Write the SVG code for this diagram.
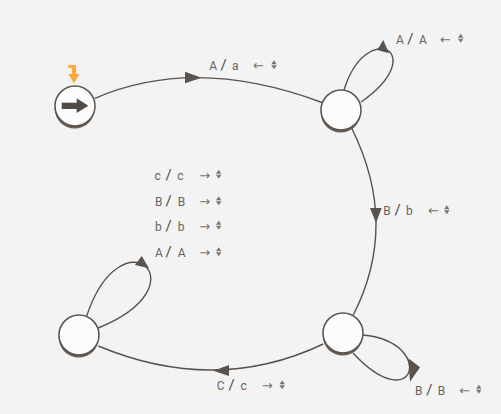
<svg xmlns="http://www.w3.org/2000/svg" xmlns:xlink="http://www.w3.org/1999/xlink" width="501" height="414" viewBox="0 0 501 414">
<style>
.edge{fill:none;stroke:#5a524c;stroke-width:1.4}
.head{fill:#5a524c;stroke:none}
.shadow{fill:#6a5d54;filter:url(#blur)}
.state{fill:#fcfcfc;stroke:#5a524c;stroke-width:1.5}
.lbl{font-family:Roboto,"Noto Sans","Liberation Sans",sans-serif;font-size:12px;fill:#6a635d}
.sl{font-size:15px;fill:#4d4742}
.ar{font-family:"DejaVu Sans",sans-serif;font-size:13px;fill:#7a736d}
.spin{fill:#7d7671}
</style>
<defs>
<filter id="blur" x="-20%" y="-20%" width="140%" height="140%"><feGaussianBlur stdDeviation="0.7"/></filter>
<g id="spinner" class="spin"><polygon points="-2.75,-0.5 2.75,-0.5 0,-4.5"/><polygon points="-2.75,0.5 2.75,0.5 0,4.5"/></g>
</defs>
<rect width="501" height="414" fill="#f3f3f3"/>
<g id="connectors">
<path class="edge" d="M95 98.3 Q194.9 55 322 102.5"/>
<polygon class="head" points="185,71.7 201.7,77.7 185,83.3"/>
<path class="edge" d="M351.7 128.3 Q399.5 224.4 353.3 315"/>
<polygon class="head" points="370,208 381.7,208 376,223"/>
<path class="edge" d="M323.3 344 Q215.8 395 98.3 346"/>
<polygon class="head" points="229,365 229,376 213.3,370.7"/>
<path class="edge" d="M361 102 C432 52 366 18 344 90"/>
<polygon class="head" points="383.3,40 389,53.3 377.3,50"/>
<path class="edge" d="M363 335 C437 342 415 420 353 353"/>
<polygon class="head" points="408.3,358.3 420,367.3 410,381.7"/>
<path class="edge" d="M98.3 328 C205 285 121.7 211 86.7 316"/>
<polygon class="head" points="141.7,256 149,268.3 135,265"/>
</g>
<g id="labels">
<g id="label-q0-q1"><text class="lbl" y="70"><tspan x="209.3">A</tspan><tspan class="sl" x="220.5">/</tspan><tspan x="232">a</tspan><tspan class="ar" x="253">←</tspan></text><use xlink:href="#spinner" x="274" y="64.8"/></g>
<g id="label-q1-q1"><text class="lbl" y="43.5"><tspan x="396">A</tspan><tspan class="sl" x="407.2">/</tspan><tspan x="419">A</tspan><tspan class="ar" x="440">←</tspan></text><use xlink:href="#spinner" x="460.7" y="38.3"/></g>
<g id="label-q1-q2"><text class="lbl" y="215"><tspan x="383.3">B</tspan><tspan class="sl" x="394.5">/</tspan><tspan x="406">b</tspan><tspan class="ar" x="428">←</tspan></text><use xlink:href="#spinner" x="446.8" y="209.8"/></g>
<g id="label-q2-q2"><text class="lbl" y="394.5"><tspan x="415">B</tspan><tspan class="sl" x="426.2">/</tspan><tspan x="437.7">B</tspan><tspan class="ar" x="459.3">←</tspan></text><use xlink:href="#spinner" x="478.8" y="389.3"/></g>
<g id="label-q2-q3"><text class="lbl" y="390"><tspan x="216.7">C</tspan><tspan class="sl" x="228.5">/</tspan><tspan x="240.5">c</tspan><tspan class="ar" x="261.7">→</tspan></text><use xlink:href="#spinner" x="282.2" y="384.8"/></g>
<g id="label-q3-q3">
<text class="lbl" y="179.5"><tspan x="154.5">c</tspan><tspan class="sl" x="165.5">/</tspan><tspan x="177.2">c</tspan><tspan class="ar" x="199.3">→</tspan></text><use xlink:href="#spinner" x="218.7" y="174.3"/>
<text class="lbl" y="206"><tspan x="155">B</tspan><tspan class="sl" x="165.5">/</tspan><tspan x="177.7">B</tspan><tspan class="ar" x="199.3">→</tspan></text><use xlink:href="#spinner" x="218.7" y="200.8"/>
<text class="lbl" y="230.5"><tspan x="155">b</tspan><tspan class="sl" x="165.5">/</tspan><tspan x="177.7">b</tspan><tspan class="ar" x="199.3">→</tspan></text><use xlink:href="#spinner" x="218.7" y="225.3"/>
<text class="lbl" y="257"><tspan x="155">A</tspan><tspan class="sl" x="165.5">/</tspan><tspan x="177.7">A</tspan><tspan class="ar" x="199.3">→</tspan></text><use xlink:href="#spinner" x="218.7" y="251.8"/>
</g>
</g>
<g id="q0">
<circle class="shadow" cx="74.7" cy="108.6" r="20"/>
<circle class="state" cx="75" cy="106" r="20"/>
<rect x="61.7" y="102.7" width="15.5" height="6.3" fill="#514a45"/>
<polygon points="76.7,98.3 88.3,105.8 76.7,113" fill="#514a45"/>
<path d="M68.3 65 H76 V74 H79.8 L74 83.3 L68.2 74 H72 V68 H68.3 Z" fill="#ffa83e"/>
</g>
<g id="q1">
<circle class="shadow" cx="340.7" cy="112.6" r="20"/>
<circle class="state" cx="341" cy="110" r="20"/>
</g>
<g id="q2">
<circle class="shadow" cx="342.7" cy="335.6" r="20"/>
<circle class="state" cx="343" cy="333" r="20"/>
</g>
<g id="q3">
<circle class="shadow" cx="78.7" cy="337.6" r="20"/>
<circle class="state" cx="79" cy="335" r="20"/>
</g>
</svg>
